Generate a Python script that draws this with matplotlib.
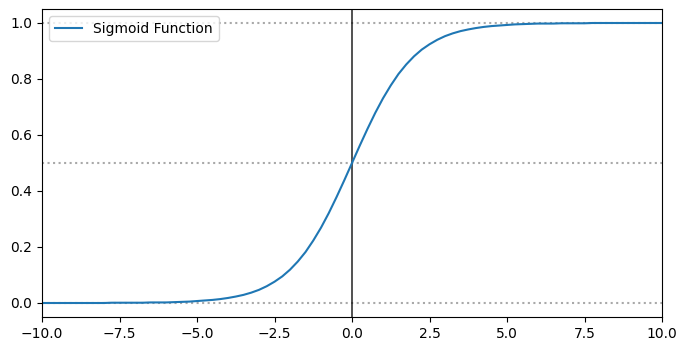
import numpy as np
import matplotlib
matplotlib.use("Agg")
from matplotlib import pyplot as plt

# curve values, x step 0.25
x = np.arange(-10, 10.001, 0.25)
left_half = [0.000, 0.000, 0.000, 0.000, 0.000, 0.000, 0.000, 0.000, 0.000, 0.001,
             0.001, 0.001, 0.001, 0.001, 0.002, 0.002, 0.002, 0.003, 0.004, 0.005,
             0.007, 0.009, 0.011, 0.014, 0.018, 0.023, 0.029, 0.037, 0.047, 0.060,
             0.076, 0.095, 0.119, 0.148, 0.182, 0.223, 0.269, 0.321, 0.378, 0.438]
mid = [0.500]
right_half = [0.562, 0.622, 0.679, 0.731, 0.777, 0.818, 0.852, 0.881, 0.905, 0.924,
              0.940, 0.953, 0.963, 0.971, 0.977, 0.982, 0.986, 0.989, 0.991, 0.993,
              0.995, 0.996, 0.997, 0.998, 0.998, 0.998, 0.999, 0.999, 0.999, 0.999,
              1.000, 1.000, 1.000, 1.000, 1.000, 1.000, 1.000, 1.000, 1.000, 1.000]
y = np.array(left_half + mid + right_half)

ref_levels = [0.0, 0.5, 1.0]
label = "Sigmoid Function"

fig = plt.figure(figsize=(6.87, 3.51), dpi=100)
ax = fig.add_axes([42 / 687, 1 - 317 / 351, 620 / 687, 308 / 351])

for lv in ref_levels:
    ax.axhline(lv, color="darkgrey", linestyle=":", linewidth=1.5)
ax.axvline(0.0, color="black", linewidth=1.2, alpha=0.8)
ax.plot(x, y, label=label, color="#1f77b4", linewidth=1.5)

ax.set_xlim(-10, 10)
ax.set_ylim(-0.05, 1.05)
ax.set_xticks(np.arange(-10, 10.1, 2.5))
ax.legend(loc="upper left")

fig.savefig("out.png", dpi=100)
